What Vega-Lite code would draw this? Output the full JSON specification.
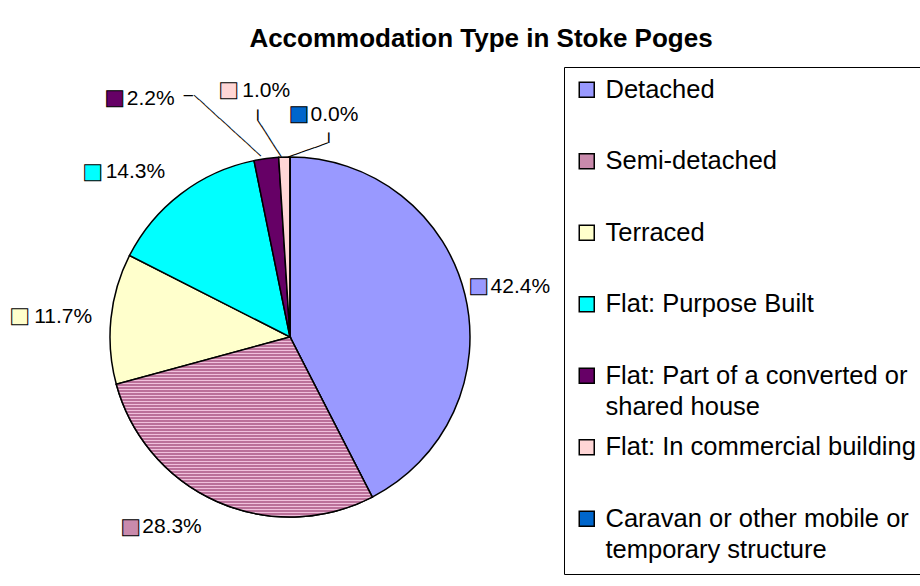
{
  "$schema": "https://vega.github.io/schema/vega-lite/v6.json",
  "autosize": {"type": "none"},
  "width": 580,
  "height": 474,
  "padding": {"left": 0, "top": 100, "right": 340, "bottom": 12},
  "background": "white",
  "config": {"view": {"stroke": null}, "style": {"guide-label": {"lineHeight": 31}}},
  "title": {
    "text": "Accommodation Type in Stoke Poges",
    "font": "Liberation Sans",
    "fontWeight": "bold",
    "fontSize": 26,
    "color": "black",
    "anchor": "middle",
    "dx": 191,
    "offset": 15
  },
  "data": {
    "values": [
      {"type": "Detached", "share": 0.424, "ord": 1},
      {"type": "Semi-detached", "share": 0.283, "ord": 2},
      {"type": "Terraced", "share": 0.117, "ord": 3},
      {"type": "Flat: Purpose Built", "share": 0.143, "ord": 4},
      {"type": "Flat: Part of a converted or shared house", "share": 0.022, "ord": 5},
      {"type": "Flat: In commercial building", "share": 0.010, "ord": 6},
      {"type": "Caravan or other mobile or temporary structure", "share": 0.0, "ord": 7}
    ]
  },
  "encoding": {
    "theta": {"field": "share", "type": "quantitative", "stack": true},
    "order": {"field": "ord", "type": "quantitative"}
  },
  "layer": [
    {
      "mark": {"type": "arc", "outerRadius": 180, "stroke": "black", "strokeWidth": 1.5},
      "encoding": {
        "color": {
          "field": "type",
          "type": "nominal",
          "scale": {
            "domain": ["Detached", "Semi-detached", "Terraced", "Flat: Purpose Built", "Flat: Part of a converted or shared house", "Flat: In commercial building", "Caravan or other mobile or temporary structure"],
            "range": ["#9999FF", "#C98AAC", "#FFFFCC", "#00FFFF", "#660066", "#FFD6D6", "#0066CC"]
          },
          "legend": {
            "title": null,
            "orient": "none",
            "legendX": 564,
            "legendY": -33,
            "direction": "vertical",
            "padding": 10,
            "strokeColor": "black",
            "fillColor": "white",
            "symbolType": "square",
            "symbolSize": 225,
            "symbolStrokeColor": "black",
            "symbolStrokeWidth": 1.5,
            "symbolOpacity": 1,
            "labelFont": "Liberation Sans",
            "labelFontSize": 25.5,
            "labelColor": "black",
            "labelLimit": 500,
            "labelOffset": 6,
            "labelBaseline": "middle",
            "labelLineHeight": 31,
            "gridAlign": "all",
            "rowPadding": 13.5,
            "labelExpr": "datum.label === 'Flat: Part of a converted or shared house' ? ['Flat: Part of a converted or', 'shared house'] : datum.label === 'Caravan or other mobile or temporary structure' ? ['Caravan or other mobile or', 'temporary structure'] : datum.label"
          }
        }
      }
    },
    {
      "mark": {
        "type": "arc",
        "outerRadius": 180,
        "stroke": "black",
        "strokeWidth": 1.5,
        "color": {
          "gradient": "linear", "x1": 0, "y1": 0, "x2": 0, "y2": 1,
          "stops": [
            {"offset": 0, "color": "#A04878"}, {"offset": 0.00833, "color": "#F0C0DC"}, {"offset": 0.01667, "color": "#A04878"}, {"offset": 0.025, "color": "#F0C0DC"},
            {"offset": 0.03333, "color": "#A04878"}, {"offset": 0.04167, "color": "#F0C0DC"}, {"offset": 0.05, "color": "#A04878"}, {"offset": 0.05833, "color": "#F0C0DC"},
            {"offset": 0.06667, "color": "#A04878"}, {"offset": 0.075, "color": "#F0C0DC"}, {"offset": 0.08333, "color": "#A04878"}, {"offset": 0.09167, "color": "#F0C0DC"},
            {"offset": 0.1, "color": "#A04878"}, {"offset": 0.10833, "color": "#F0C0DC"}, {"offset": 0.11667, "color": "#A04878"}, {"offset": 0.125, "color": "#F0C0DC"},
            {"offset": 0.13333, "color": "#A04878"}, {"offset": 0.14167, "color": "#F0C0DC"}, {"offset": 0.15, "color": "#A04878"}, {"offset": 0.15833, "color": "#F0C0DC"},
            {"offset": 0.16667, "color": "#A04878"}, {"offset": 0.175, "color": "#F0C0DC"}, {"offset": 0.18333, "color": "#A04878"}, {"offset": 0.19167, "color": "#F0C0DC"},
            {"offset": 0.2, "color": "#A04878"}, {"offset": 0.20833, "color": "#F0C0DC"}, {"offset": 0.21667, "color": "#A04878"}, {"offset": 0.225, "color": "#F0C0DC"},
            {"offset": 0.23333, "color": "#A04878"}, {"offset": 0.24167, "color": "#F0C0DC"}, {"offset": 0.25, "color": "#A04878"}, {"offset": 0.25833, "color": "#F0C0DC"},
            {"offset": 0.26667, "color": "#A04878"}, {"offset": 0.275, "color": "#F0C0DC"}, {"offset": 0.28333, "color": "#A04878"}, {"offset": 0.29167, "color": "#F0C0DC"},
            {"offset": 0.3, "color": "#A04878"}, {"offset": 0.30833, "color": "#F0C0DC"}, {"offset": 0.31667, "color": "#A04878"}, {"offset": 0.325, "color": "#F0C0DC"},
            {"offset": 0.33333, "color": "#A04878"}, {"offset": 0.34167, "color": "#F0C0DC"}, {"offset": 0.35, "color": "#A04878"}, {"offset": 0.35833, "color": "#F0C0DC"},
            {"offset": 0.36667, "color": "#A04878"}, {"offset": 0.375, "color": "#F0C0DC"}, {"offset": 0.38333, "color": "#A04878"}, {"offset": 0.39167, "color": "#F0C0DC"},
            {"offset": 0.4, "color": "#A04878"}, {"offset": 0.40833, "color": "#F0C0DC"}, {"offset": 0.41667, "color": "#A04878"}, {"offset": 0.425, "color": "#F0C0DC"},
            {"offset": 0.43333, "color": "#A04878"}, {"offset": 0.44167, "color": "#F0C0DC"}, {"offset": 0.45, "color": "#A04878"}, {"offset": 0.45833, "color": "#F0C0DC"},
            {"offset": 0.46667, "color": "#A04878"}, {"offset": 0.475, "color": "#F0C0DC"}, {"offset": 0.48333, "color": "#A04878"}, {"offset": 0.49167, "color": "#F0C0DC"},
            {"offset": 0.5, "color": "#A04878"}, {"offset": 0.50833, "color": "#F0C0DC"}, {"offset": 0.51667, "color": "#A04878"}, {"offset": 0.525, "color": "#F0C0DC"},
            {"offset": 0.53333, "color": "#A04878"}, {"offset": 0.54167, "color": "#F0C0DC"}, {"offset": 0.55, "color": "#A04878"}, {"offset": 0.55833, "color": "#F0C0DC"},
            {"offset": 0.56667, "color": "#A04878"}, {"offset": 0.575, "color": "#F0C0DC"}, {"offset": 0.58333, "color": "#A04878"}, {"offset": 0.59167, "color": "#F0C0DC"},
            {"offset": 0.6, "color": "#A04878"}, {"offset": 0.60833, "color": "#F0C0DC"}, {"offset": 0.61667, "color": "#A04878"}, {"offset": 0.625, "color": "#F0C0DC"},
            {"offset": 0.63333, "color": "#A04878"}, {"offset": 0.64167, "color": "#F0C0DC"}, {"offset": 0.65, "color": "#A04878"}, {"offset": 0.65833, "color": "#F0C0DC"},
            {"offset": 0.66667, "color": "#A04878"}, {"offset": 0.675, "color": "#F0C0DC"}, {"offset": 0.68333, "color": "#A04878"}, {"offset": 0.69167, "color": "#F0C0DC"},
            {"offset": 0.7, "color": "#A04878"}, {"offset": 0.70833, "color": "#F0C0DC"}, {"offset": 0.71667, "color": "#A04878"}, {"offset": 0.725, "color": "#F0C0DC"},
            {"offset": 0.73333, "color": "#A04878"}, {"offset": 0.74167, "color": "#F0C0DC"}, {"offset": 0.75, "color": "#A04878"}, {"offset": 0.75833, "color": "#F0C0DC"},
            {"offset": 0.76667, "color": "#A04878"}, {"offset": 0.775, "color": "#F0C0DC"}, {"offset": 0.78333, "color": "#A04878"}, {"offset": 0.79167, "color": "#F0C0DC"},
            {"offset": 0.8, "color": "#A04878"}, {"offset": 0.80833, "color": "#F0C0DC"}, {"offset": 0.81667, "color": "#A04878"}, {"offset": 0.825, "color": "#F0C0DC"},
            {"offset": 0.83333, "color": "#A04878"}, {"offset": 0.84167, "color": "#F0C0DC"}, {"offset": 0.85, "color": "#A04878"}, {"offset": 0.85833, "color": "#F0C0DC"},
            {"offset": 0.86667, "color": "#A04878"}, {"offset": 0.875, "color": "#F0C0DC"}, {"offset": 0.88333, "color": "#A04878"}, {"offset": 0.89167, "color": "#F0C0DC"},
            {"offset": 0.9, "color": "#A04878"}, {"offset": 0.90833, "color": "#F0C0DC"}, {"offset": 0.91667, "color": "#A04878"}, {"offset": 0.925, "color": "#F0C0DC"},
            {"offset": 0.93333, "color": "#A04878"}, {"offset": 0.94167, "color": "#F0C0DC"}, {"offset": 0.95, "color": "#A04878"}, {"offset": 0.95833, "color": "#F0C0DC"},
            {"offset": 0.96667, "color": "#A04878"}, {"offset": 0.975, "color": "#F0C0DC"}, {"offset": 0.98333, "color": "#A04878"}, {"offset": 0.99167, "color": "#F0C0DC"},
            {"offset": 1, "color": "#A04878"}
          ]
        }
      },
      "encoding": {
        "opacity": {"condition": {"test": "datum.type === 'Semi-detached'", "value": 1}, "value": 0}
      }
    },
    {
      "mark": {"type": "text", "radius": 230, "dx": -12.8, "dy": 34.9, "angle": 42.4, "font": "DejaVu Sans Mono", "fontSize": 11.55, "color": "black", "align": "center", "baseline": "middle"},
      "encoding": {"text": {"condition": {"test": "datum.type === 'Flat: Part of a converted or shared house'", "value": "─────────────"}, "value": ""}}
    },
    {
      "mark": {"type": "text", "radius": 230, "dx": -71.5, "dy": -13.3, "font": "DejaVu Sans Mono", "fontSize": 15, "color": "black", "align": "center", "baseline": "middle"},
      "encoding": {"text": {"condition": {"test": "datum.type === 'Flat: Part of a converted or shared house'", "value": "─"}, "value": ""}}
    },
    {
      "mark": {"type": "text", "radius": 230, "dx": 18.9, "dy": 28.4, "angle": 57.1, "font": "DejaVu Sans Mono", "fontSize": 12.1, "color": "black", "align": "center", "baseline": "middle"},
      "encoding": {"text": {"condition": {"test": "datum.type === 'Flat: In commercial building'", "value": "──────"}, "value": ""}}
    },
    {
      "mark": {"type": "text", "radius": 230, "dx": 7.4, "dy": 25.5, "angle": 90, "font": "DejaVu Sans Mono", "fontSize": 17, "color": "black", "align": "center", "baseline": "middle"},
      "encoding": {"text": {"condition": {"test": "datum.type === 'Flat: In commercial building'", "value": "─"}, "value": ""}}
    },
    {
      "mark": {"type": "text", "radius": 230, "dx": 2.8, "dy": 46.5, "angle": -19.3, "font": "DejaVu Sans Mono", "fontSize": 11.7, "color": "black", "align": "center", "baseline": "middle"},
      "encoding": {"text": {"condition": {"test": "datum.type === 'Caravan or other mobile or temporary structure'", "value": "──────"}, "value": ""}}
    },
    {
      "mark": {"type": "text", "radius": 230, "dx": 30.5, "dy": -38.3, "angle": 90, "font": "DejaVu Sans Mono", "fontSize": 17, "color": "black", "align": "center", "baseline": "middle"},
      "encoding": {"text": {"condition": {"test": "datum.type === 'Caravan or other mobile or temporary structure'", "value": "─"}, "value": ""}}
    },
    {
      "mark": {"type": "text", "radius": 230, "dx": -35, "dy": 3, "font": "DejaVu Sans", "fontSize": 21, "stroke": "black", "strokeWidth": 1, "align": "center", "baseline": "middle"},
      "encoding": {"color": {"field": "type", "type": "nominal", "legend": null}, "text": {"condition": {"test": "datum.type === 'Detached'", "value": "■"}, "value": ""}}
    },
    {
      "mark": {"type": "text", "radius": 230, "dx": -23, "dy": 4, "font": "Liberation Sans", "fontSize": 21, "color": "black", "align": "left", "baseline": "middle"},
      "encoding": {"text": {"condition": {"test": "datum.type === 'Detached'", "field": "share", "type": "quantitative", "format": ".1%"}, "value": ""}}
    },
    {
      "mark": {"type": "text", "radius": 230, "dx": -66.5, "dy": -20, "font": "DejaVu Sans", "fontSize": 21, "stroke": "black", "strokeWidth": 1, "align": "center", "baseline": "middle"},
      "encoding": {"color": {"field": "type", "type": "nominal", "legend": null}, "text": {"condition": {"test": "datum.type === 'Semi-detached'", "value": "■"}, "value": ""}}
    },
    {
      "mark": {"type": "text", "radius": 230, "dx": -55, "dy": -20, "font": "Liberation Sans", "fontSize": 21, "color": "black", "align": "left", "baseline": "middle"},
      "encoding": {"text": {"condition": {"test": "datum.type === 'Semi-detached'", "field": "share", "type": "quantitative", "format": ".1%"}, "value": ""}}
    },
    {
      "mark": {"type": "text", "radius": 230, "dx": -41.5, "dy": 2, "font": "DejaVu Sans", "fontSize": 21, "stroke": "black", "strokeWidth": 1, "align": "center", "baseline": "middle"},
      "encoding": {"color": {"field": "type", "type": "nominal", "legend": null}, "text": {"condition": {"test": "datum.type === 'Terraced'", "value": "■"}, "value": ""}}
    },
    {
      "mark": {"type": "text", "radius": 230, "dx": -27, "dy": 3.5, "font": "Liberation Sans", "fontSize": 21, "color": "black", "align": "left", "baseline": "middle"},
      "encoding": {"text": {"condition": {"test": "datum.type === 'Terraced'", "field": "share", "type": "quantitative", "format": ".1%"}, "value": ""}}
    },
    {
      "mark": {"type": "text", "radius": 230, "dx": -58, "dy": 17.5, "font": "DejaVu Sans", "fontSize": 21, "stroke": "black", "strokeWidth": 1, "align": "center", "baseline": "middle"},
      "encoding": {"color": {"field": "type", "type": "nominal", "legend": null}, "text": {"condition": {"test": "datum.type === 'Flat: Purpose Built'", "value": "■"}, "value": ""}}
    },
    {
      "mark": {"type": "text", "radius": 230, "dx": -45, "dy": 18, "font": "Liberation Sans", "fontSize": 21, "color": "black", "align": "left", "baseline": "middle"},
      "encoding": {"text": {"condition": {"test": "datum.type === 'Flat: Purpose Built'", "field": "share", "type": "quantitative", "format": ".1%"}, "value": ""}}
    },
    {
      "mark": {"type": "text", "radius": 230, "dx": -145, "dy": -11, "font": "DejaVu Sans", "fontSize": 21, "stroke": "black", "strokeWidth": 1, "align": "center", "baseline": "middle"},
      "encoding": {"color": {"field": "type", "type": "nominal", "legend": null}, "text": {"condition": {"test": "datum.type === 'Flat: Part of a converted or shared house'", "value": "■"}, "value": ""}}
    },
    {
      "mark": {"type": "text", "radius": 230, "dx": -133, "dy": -10.5, "font": "Liberation Sans", "fontSize": 21, "color": "black", "align": "left", "baseline": "middle"},
      "encoding": {"text": {"condition": {"test": "datum.type === 'Flat: Part of a converted or shared house'", "field": "share", "type": "quantitative", "format": ".1%"}, "value": ""}}
    },
    {
      "mark": {"type": "text", "radius": 230, "dx": -54, "dy": -17.5, "font": "DejaVu Sans", "fontSize": 21, "stroke": "black", "strokeWidth": 1, "align": "center", "baseline": "middle"},
      "encoding": {"color": {"field": "type", "type": "nominal", "legend": null}, "text": {"condition": {"test": "datum.type === 'Flat: In commercial building'", "value": "■"}, "value": ""}}
    },
    {
      "mark": {"type": "text", "radius": 230, "dx": -40.5, "dy": -16.5, "font": "Liberation Sans", "fontSize": 21, "color": "black", "align": "left", "baseline": "middle"},
      "encoding": {"text": {"condition": {"test": "datum.type === 'Flat: In commercial building'", "field": "share", "type": "quantitative", "format": ".1%"}, "value": ""}}
    },
    {
      "mark": {"type": "text", "radius": 230, "dx": 9, "dy": 7, "font": "DejaVu Sans", "fontSize": 21, "stroke": "black", "strokeWidth": 1, "align": "center", "baseline": "middle"},
      "encoding": {"color": {"field": "type", "type": "nominal", "legend": null}, "text": {"condition": {"test": "datum.type === 'Caravan or other mobile or temporary structure'", "value": "■"}, "value": ""}}
    },
    {
      "mark": {"type": "text", "radius": 230, "dx": 20.5, "dy": 8, "font": "Liberation Sans", "fontSize": 21, "color": "black", "align": "left", "baseline": "middle"},
      "encoding": {"text": {"condition": {"test": "datum.type === 'Caravan or other mobile or temporary structure'", "field": "share", "type": "quantitative", "format": ".1%"}, "value": ""}}
    }
  ]
}
